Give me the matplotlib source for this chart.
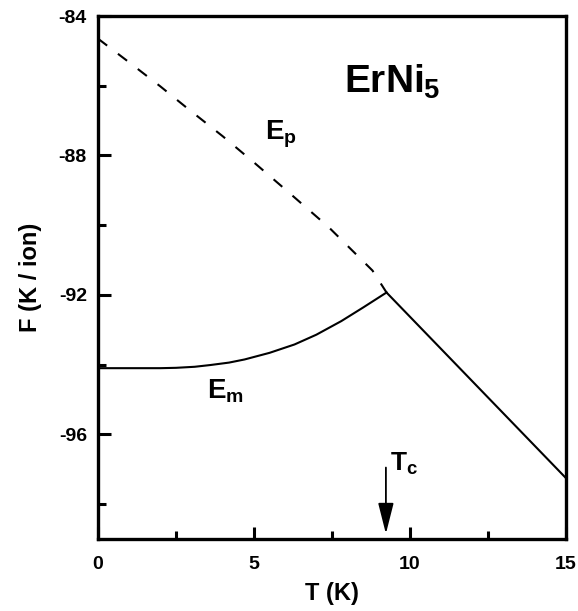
import matplotlib
matplotlib.use('Agg')
import matplotlib.pyplot as plt
import numpy as np

plt.rcParams['font.family'] = ['Liberation Sans', 'DejaVu Sans']
plt.rcParams['font.weight'] = 'bold'
plt.rcParams['axes.unicode_minus'] = False
plt.rcParams['mathtext.fontset'] = 'custom'
plt.rcParams['mathtext.rm'] = 'Liberation Sans:bold'
plt.rcParams['mathtext.it'] = 'Liberation Sans:bold'
plt.rcParams['mathtext.bf'] = 'Liberation Sans:bold'

# paramagnetic free energy E_p (dashed below Tc, solid above)
t_para = [0.0, 1.0, 2.0, 2.8, 4.0, 5.0, 6.0, 7.4, 8.8, 9.25]
f_para = [-84.65, -85.33, -86.02, -86.6, -87.45, -88.2, -88.97, -90.06, -91.3, -91.93]
t_above = [9.25, 15.0]
f_above = [-91.93, -97.25]

# magnetically ordered free energy E_m
t_mag = [0.0, 1.0, 2.0, 2.5, 3.1, 3.6, 4.2, 4.7, 5.5, 6.3, 7.0, 7.8, 8.5, 9.25]
f_mag = [-94.1, -94.1, -94.1, -94.09, -94.06, -94.01, -93.94, -93.85, -93.66,
         -93.42, -93.14, -92.75, -92.36, -91.93]

t_curie = 9.23

fig = plt.figure(figsize=(5.78, 6.11), dpi=100)
ax = fig.add_axes([0.1696, 0.1178, 0.8094, 0.856])

ax.plot(t_para, f_para, color='black', lw=1.5, linestyle=(0, (5.5, 6.5)))
ax.plot(t_above, f_above, color='black', lw=1.5)
ax.plot(t_mag, f_mag, color='black', lw=1.5)

ax.annotate('', xy=(t_curie, -98.85), xytext=(t_curie, -96.95),
            arrowprops=dict(arrowstyle='-|>,head_length=0.95,head_width=0.24',
                            color='black', lw=1.3, mutation_scale=20,
                            shrinkA=0, shrinkB=0))
ax.text(t_curie + 0.12, -96.85, r'$T_c$', fontsize=19, va='center', ha='left')

ax.text(5.35, -87.4, r'$E_p$', fontsize=20, va='center', ha='left')
ax.text(3.48, -94.75, r'$E_m$', fontsize=20, va='center', ha='left')
ax.text(7.9, -85.9, r'$ErNi_5$', fontsize=28, va='center', ha='left')

ax.set_xlim(0, 15)
ax.set_ylim(-99, -84)
ax.set_xticks([0, 5, 10, 15])
ax.set_xticks([2.5, 7.5, 12.5], minor=True)
ax.set_yticks([-84, -88, -92, -96])
ax.set_yticks([-86, -90, -94, -98], minor=True)

ax.tick_params(which='both', direction='in', width=2.2, top=False, right=False)
ax.tick_params(which='major', length=9, labelsize=14)
ax.tick_params(which='minor', length=5.5)
ax.tick_params(axis='x', which='major', pad=12.5)
ax.tick_params(axis='y', which='major', pad=8)
for lab in ax.get_xticklabels() + ax.get_yticklabels():
    lab.set_fontweight('bold')

for sp in ax.spines.values():
    sp.set_linewidth(2.4)

ax.set_xlabel('T (K)', fontsize=17, fontweight='bold', labelpad=6)
ax.set_ylabel('F (K / ion)', fontsize=17, fontweight='bold', labelpad=12)

fig.savefig('out.png', dpi=100)
